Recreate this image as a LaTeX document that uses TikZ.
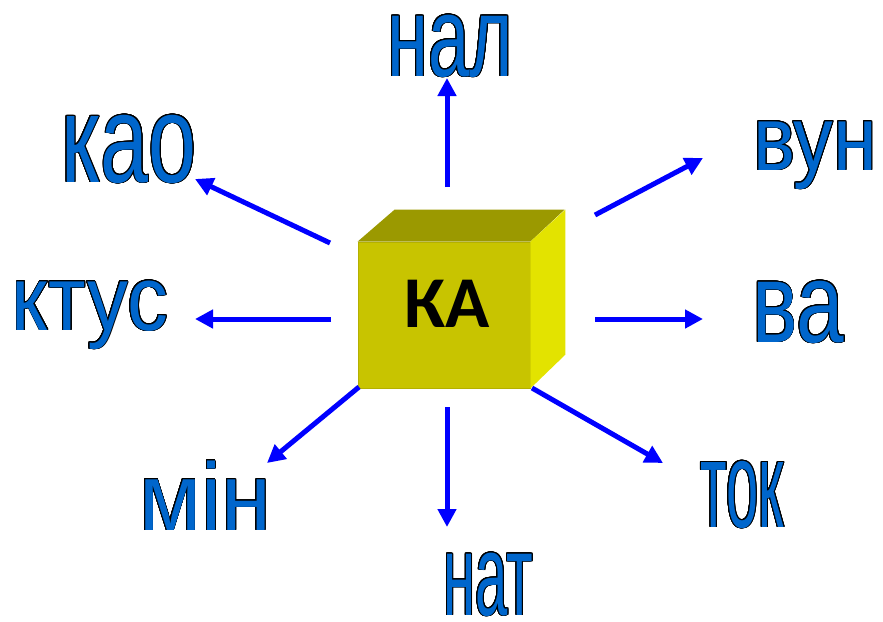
\documentclass[tikz,border=0pt]{standalone}
\usepackage{fontspec}
\usepackage{contour}
\usetikzlibrary{arrows.meta}
\newfontfamily\wordfont{Liberation Sans}
\newfontfamily\cubefont{Carlito}
\definecolor{wordblue}{RGB}{0,102,204}
\definecolor{cubefront}{RGB}{200,196,0}
\definecolor{cubetop}{RGB}{155,153,0}
\definecolor{cubeside}{RGB}{227,227,0}
\contourlength{0.9pt}
\contournumber{24}
% size, horizontal squeeze, text
\newcommand{\wrd}[3]{\fontsize{#1}{#1}\selectfont\contour{black}{\scalebox{#2}[1]{#3}}}
\tikzset{%
	word/.style  = {text=wordblue, font=\wordfont, inner sep=0pt, anchor=base},
	arr/.style   = {draw=blue, line width=5pt, -{Triangle[length=18pt,width=18pt]}},
	cube/.style  = {fill=cubefront, draw=cubefront!90!black, line width=0.8pt,
		minimum width=172pt, minimum height=146pt, inner sep=0pt},
	title/.style = {font=\cubefont\bfseries\fontsize{73}{73}\selectfont, inner sep=0pt}
}

\begin{document}
\begin{tikzpicture}[x=1pt,y=-1pt]
	\useasboundingbox (0,0) rectangle (883,621);

	% the box
	\node[cube] (box) at (444,315) {};
	\fill[cubetop] (box.north west) -- ++(37,-32) -- ++(170,0) -- (box.north east) -- cycle;
	\fill[cubeside] (box.north east) -- ++(35,-32) -- ++(0,145) -- (box.south east) -- cycle;
	\node[title] (ka) at (447,304) {КА};

	% words
	\node[word] (nal)  at (450,76)  {\wrd{114}{0.65}{нал}};
	\node[word] (vun)  at (815,170) {\wrd{92}{0.86}{вун}};
	\node[word] (va)   at (798,342) {\wrd{114}{0.75}{ва}};
	\node[word] (tok)  at (742,527) {\wrd{123}{0.47}{ток}};
	\node[word] (nat)  at (488,615) {\wrd{116}{0.50}{нат}};
	\node[word] (min)  at (205,530) {\wrd{96}{0.94}{мін}};
	\node[word] (ktus) at (90,330)  {\wrd{92}{0.89}{ктус}};
	\node[word] (kao)  at (129,182) {\wrd{125}{0.69}{као}};

	% arrow ends
	\coordinate (nal-t)  at (447,187); \coordinate (nal-h)  at (447,78);
	\coordinate (vun-t)  at (595,215); \coordinate (vun-h)  at (703,158);
	\coordinate (va-t)   at (595,319); \coordinate (va-h)   at (703,319);
	\coordinate (tok-t)  at (532,388); \coordinate (tok-h)  at (663,463);
	\coordinate (nat-t)  at (447,407); \coordinate (nat-h)  at (447,527);
	\coordinate (min-t)  at (359,387); \coordinate (min-h)  at (267,463);
	\coordinate (ktus-t) at (331,319); \coordinate (ktus-h) at (195,319);
	\coordinate (kao-t)  at (330,243); \coordinate (kao-h)  at (195,179);

	\draw[arr] (nal-t) -- (nal-h);
	\draw[arr] (vun-t) -- (vun-h);
	\draw[arr] (va-t) -- (va-h);
	\draw[arr] (tok-t) -- (tok-h);
	\draw[arr] (nat-t) -- (nat-h);
	\draw[arr] (min-t) -- (min-h);
	\draw[arr] (ktus-t) -- (ktus-h);
	\draw[arr] (kao-t) -- (kao-h);
\end{tikzpicture}
\end{document}
